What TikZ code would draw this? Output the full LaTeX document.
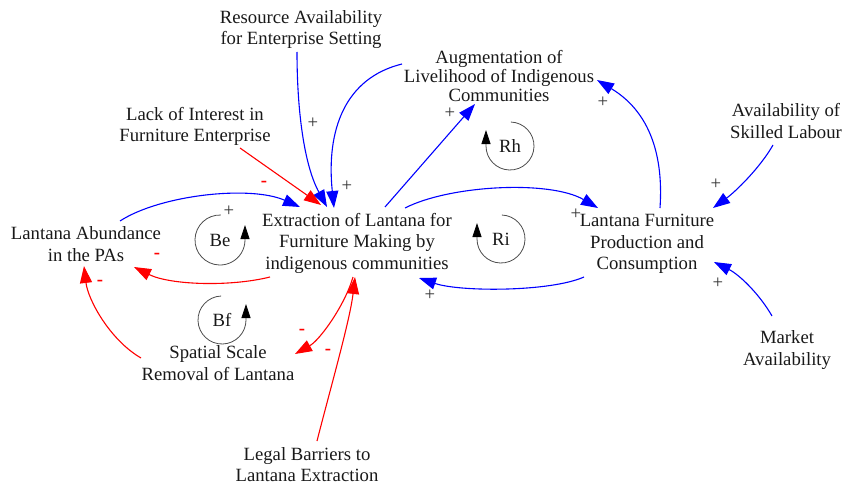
\documentclass[tikz,border=0pt]{standalone}
\usepackage{fontspec}
\setmainfont{Liberation Serif}
\usetikzlibrary{arrows.meta}
\begin{document}
\begin{tikzpicture}[x=1pt,y=1pt,
  var/.style={inner sep=0pt, align=center, font=\fontsize{18.7}{21.5}\selectfont, text=black!90},
  looplabel/.style={inner sep=0pt, font=\fontsize{18.7}{21.5}\selectfont, text=black!90},
  causallink/.style={line width=1.1pt, -{Triangle[length=17pt,width=12pt]}},
  poslink/.style={causallink, blue},
  neglink/.style={causallink, red},
  plussign/.style={inner sep=0pt, font=\fontsize{18.7}{20}\selectfont, text=black!80},
  minussign/.style={inner sep=0pt, font=\fontsize{18.7}{20}\selectfont\bfseries, text=red},
  loopline/.style={black!70, line width=0.8pt, -{Triangle[length=14pt,width=9pt,black]}}
]
\useasboundingbox (0,0) rectangle (844,-487);

% variables
\node[var] (res) at (301,-29.5) {Resource Availability\\for Enterprise Setting};
\node[var, font=\fontsize{18.7}{19}\selectfont] (aug) at (499,-76) {Augmentation of\\Livelihood of Indigenous\\Communities};
\node[var] (lack) at (195,-126.5) {Lack of Interest in\\Furniture Enterprise};
\node[var] (skill) at (786,-121) {Availability of\\Skilled Labour};
\node[var] (ext) at (357,-243) {Extraction of Lantana for\\Furniture Making by\\indigenous communities};
\node[var] (abund) at (86,-244) {Lantana Abundance\\in the PAs};
\node[var] (lf) at (647,-244) {Lantana Furniture\\Production and\\Consumption};
\node[var] (spat) at (218,-363) {Spatial Scale\\Removal of Lantana};
\node[var] (legal) at (307,-464.5) {Legal Barriers to\\Lantana Extraction};
\node[var] (market) at (787,-350) {Market\\Availability};

% causal links
\draw[poslink] ([shift={(-4,-22.5)}]res.center) .. controls (297,-110) and (304,-165) .. ([shift={(-30,36)}]ext.center);
\draw[poslink] ([shift={(-97,12)}]aug.center) .. controls (345,-78) and (326,-130) .. ([shift={(-23,35)}]ext.center);
\draw[neglink] ([shift={(45,-21.5)}]lack.center) -- ([shift={(-36,38)}]ext.center);
\draw[poslink] ([shift={(34,23)}]abund.center) .. controls (160,-195) and (250,-185) .. ([shift={(-57,36)}]ext.center);
\draw[neglink] ([shift={(-87,-34)}]ext.center) .. controls (230,-287) and (170,-285) .. ([shift={(48,-23)}]abund.center);
\draw[neglink] ([shift={(-77,5)}]spat.center) .. controls (110,-340) and (88,-300) .. ([shift={(-2,-22)}]abund.center);
\draw[neglink] ([shift={(-4,-34)}]ext.center) .. controls (345,-305) and (320,-340) .. ([shift={(77,9)}]spat.center);
\draw[neglink] ([shift={(10,23.5)}]legal.center) .. controls (330,-390) and (350,-320) .. ([shift={(-2,-34)}]ext.center);
\draw[poslink] ([shift={(28,36)}]ext.center) -- ([shift={(-24,-28)}]aug.center);
\draw[poslink] ([shift={(48,35)}]ext.center) .. controls (450,-185) and (550,-180) .. ([shift={(-49,36)}]lf.center);
\draw[poslink] ([shift={(-63,-33)}]lf.center) .. controls (550,-292) and (460,-292) .. ([shift={(62,-35)}]ext.center);
\draw[poslink] ([shift={(13,36)}]lf.center) .. controls (663,-165) and (655,-115) .. ([shift={(98,-4)}]aug.center);
\draw[poslink] ([shift={(-13,-24)}]skill.center) .. controls (760,-168) and (735,-192) .. ([shift={(66,36)}]lf.center);
\draw[poslink] ([shift={(-15,34)}]market.center) .. controls (760,-295) and (740,-275) .. ([shift={(67,-18)}]lf.center);

% link polarities
\node[plussign] (s1) at (313,-123) {+};
\node[plussign] (s2) at (347,-186) {+};
\node[minussign] (s3) at (264,-184) {-};
\node[plussign] (s4) at (229,-211) {+};
\node[minussign] (s5) at (157,-256) {-};
\node[minussign] (s6) at (100,-283) {-};
\node[minussign] (s7) at (302,-332) {-};
\node[minussign] (s8) at (328,-352) {-};
\node[plussign] (s9) at (450,-113) {+};
\node[plussign] (s10) at (576,-214) {+};
\node[plussign] (s11) at (430,-295) {+};
\node[plussign] (s12) at (603,-102) {+};
\node[plussign] (s13) at (716,-184) {+};
\node[plussign] (s14) at (718,-283) {+};

% feedback loops
\node[looplabel] (be) at (220,-240) {Be};
\draw[loopline] ([shift={(88:25)}]be.center) arc[start angle=88, end angle=360, radius=25] -- ++(0,15);
\node[looplabel] (bf) at (222,-320) {Bf};
\draw[loopline] ([shift={(92:24)}]bf.center) arc[start angle=92, end angle=360, radius=24] -- ++(0,16);
\node[looplabel] (rh) at (510,-146) {Rh};
\draw[loopline] ([shift={(88:24)}]rh.center) arc[start angle=88, end angle=-180, radius=24] -- ++(0,16);
\node[looplabel] (ri) at (501,-239) {Ri};
\draw[loopline] ([shift={(88:24)}]ri.center) arc[start angle=88, end angle=-180, radius=24] -- ++(0,16);
\end{tikzpicture}
\end{document}
